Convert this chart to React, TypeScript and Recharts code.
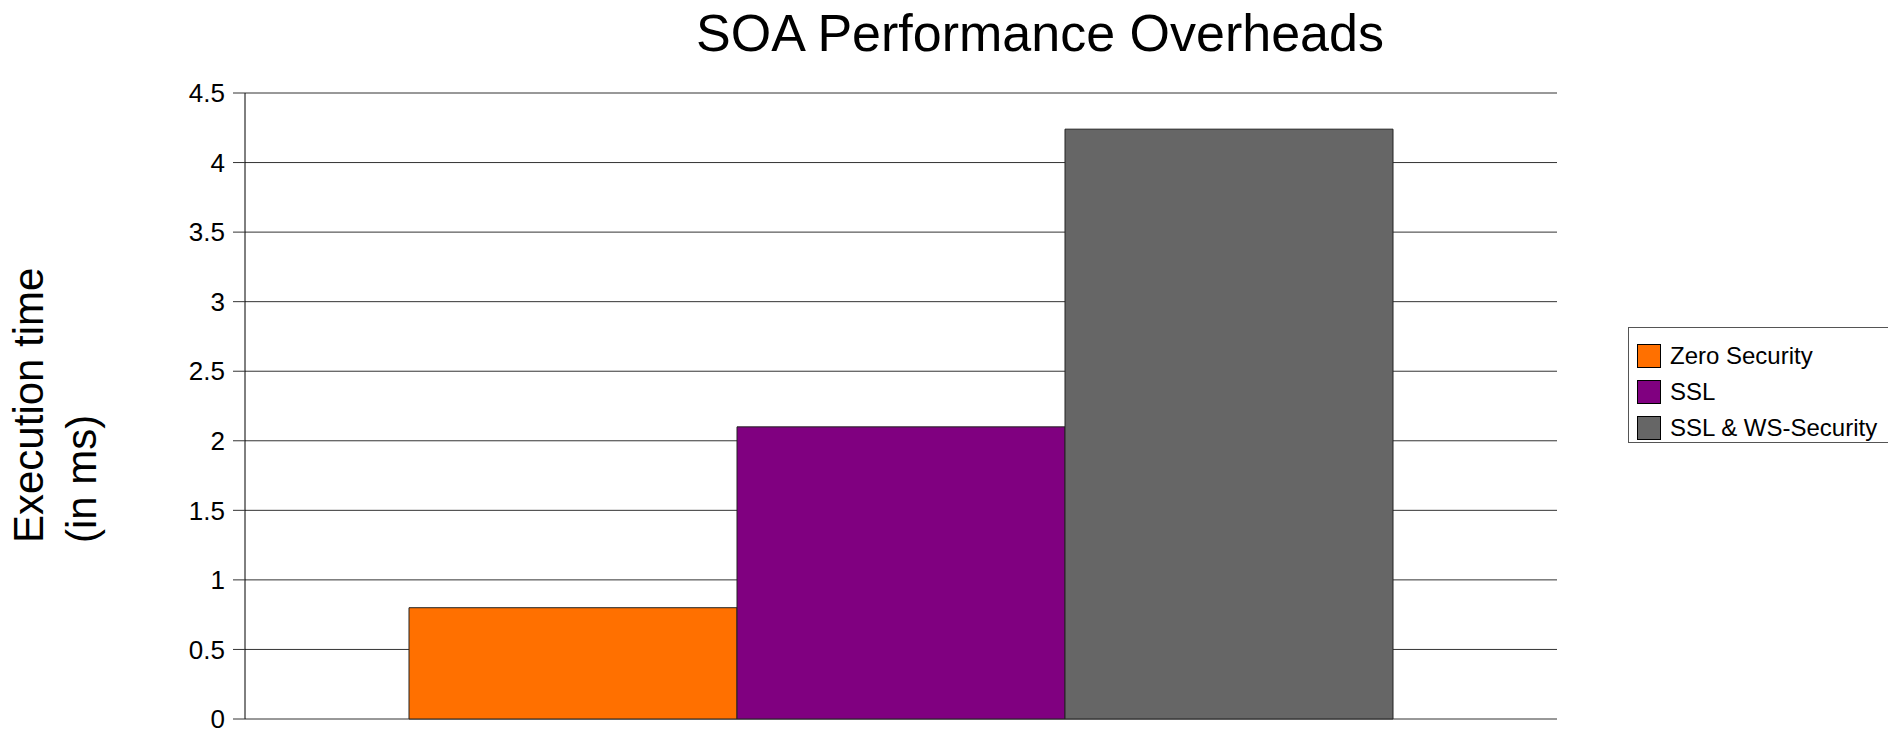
import React from 'react';
import { BarChart, Bar, CartesianGrid, XAxis, YAxis, Legend } from 'recharts';

const categories = ['SOA'];
const zeroSecurity = [0.8];
const ssl = [2.1];
const sslWsSecurity = [4.24];
const yTicks = [0, 0.5, 1, 1.5, 2, 2.5, 3, 3.5, 4, 4.5];

const seriesNames = ['Zero Security', 'SSL', 'SSL & WS-Security'];
const seriesColors = ['#ff7000', '#800080', '#666666'];

const chartData = categories.map((name, i) => ({
    name,
    zero: zeroSecurity[i],
    ssl: ssl[i],
    sslWs: sslWsSecurity[i],
}));

const FONT = '"Liberation Sans", Arial, sans-serif';

const AxisTitle = () => (
    <text
        x={43}
        y={543}
        transform="rotate(-90, 43, 543)"
        textAnchor="start"
        fontFamily={FONT}
        fontSize={42}
        fill="#000"
    >
        <tspan x={43} dy={0}>Execution time</tspan>
        <tspan x={43} dy={53}>(in ms)</tspan>
    </text>
);

const LegendBox = (props: any) => {
    const { payload } = props;
    return (
        <div
            style={{
                border: '1px solid #555',
                borderRight: 'none',
                width: 262,
                height: 104,
                paddingTop: 10,
                background: '#fff',
                fontFamily: FONT,
            }}
        >
            {(payload || []).map((entry: any) => (
                <div
                    key={entry.value}
                    style={{ display: 'flex', alignItems: 'center', height: 36, paddingLeft: 8 }}
                >
                    <span
                        style={{
                            display: 'inline-block',
                            width: 22,
                            height: 22,
                            background: entry.color,
                            border: '1px solid #000',
                            marginRight: 9,
                        }}
                    />
                    <span style={{ fontSize: 24, color: '#000' }}>{entry.value}</span>
                </div>
            ))}
        </div>
    );
};

const App: React.FC = () => {
    return (
        <div style={{ position: 'absolute', left: 0, top: 0, width: 1888, height: 729, background: '#fff' }}>
            <div
                style={{
                    position: 'absolute',
                    left: 540,
                    top: 7,
                    width: 1000,
                    textAlign: 'center',
                    fontFamily: FONT,
                    fontSize: 52,
                    lineHeight: '52px',
                    color: '#000',
                }}
            >
                SOA Performance Overheads
            </div>
            <BarChart
                width={1888}
                height={729}
                data={chartData}
                margin={{ top: 93, right: 331, bottom: 10, left: 165 }}
                barCategoryGap="12.5%"
                barGap={0}
            >
                <CartesianGrid vertical={false} stroke="#333" />
                <XAxis dataKey="name" height={0} tick={false} tickLine={false} axisLine={{ stroke: '#000' }} />
                <YAxis
                    width={80}
                    domain={[0, 4.5]}
                    ticks={yTicks}
                    interval={0}
                    tickSize={12}
                    tickMargin={8}
                    tickLine={{ stroke: '#333' }}
                    axisLine={{ stroke: '#000' }}
                    tick={{ fill: '#000', fontSize: 26, fontFamily: FONT }}
                    label={{ content: () => <AxisTitle /> }}
                />
                <Legend
                    layout="vertical"
                    align="center"
                    verticalAlign="middle"
                    itemSorter={(item: any) => seriesNames.indexOf(item.value)}
                    content={<LegendBox />}
                    wrapperStyle={{ left: 1628, top: 327, width: 270 }}
                />
                <Bar dataKey="zero" name={seriesNames[0]} fill={seriesColors[0]} stroke="#222" strokeWidth={1} isAnimationActive={false} />
                <Bar dataKey="ssl" name={seriesNames[1]} fill={seriesColors[1]} stroke="#222" strokeWidth={1} isAnimationActive={false} />
                <Bar dataKey="sslWs" name={seriesNames[2]} fill={seriesColors[2]} stroke="#222" strokeWidth={1} isAnimationActive={false} />
            </BarChart>
        </div>
    );
};

export default App;
